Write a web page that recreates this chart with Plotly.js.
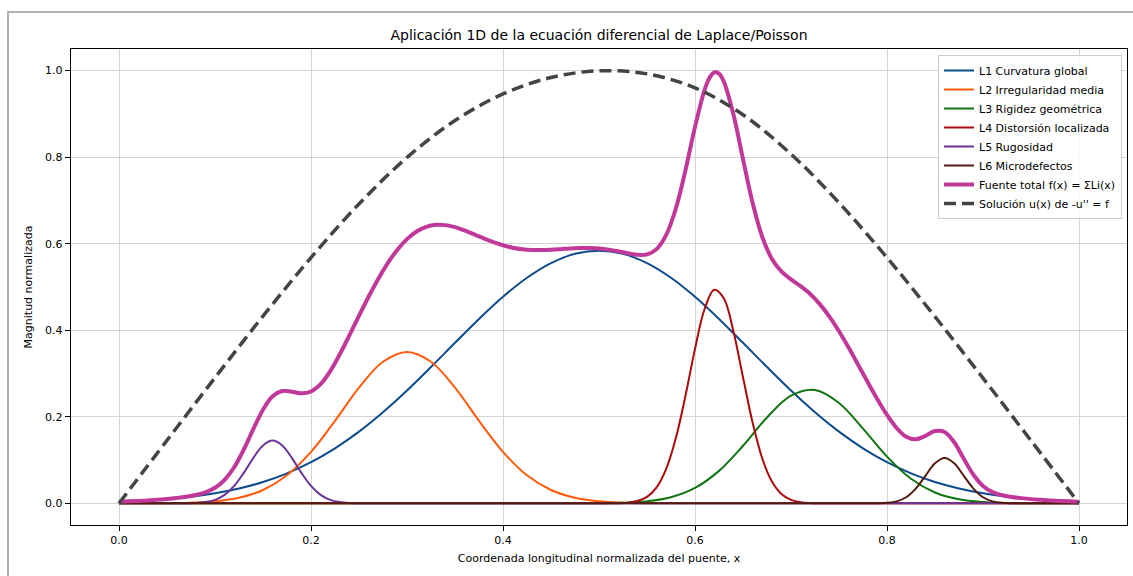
<!DOCTYPE html>
<html>
<head>
<meta charset="utf-8">
<script src="https://cdn.plot.ly/plotly-3.0.1.min.js"></script>
<style>html,body{margin:0;padding:0;background:#fff;}#chart{width:1133px;height:576px;}</style>
</head>
<body>
<div id="chart"></div>
<script>
// ---- Data ----
var xL1 = [0,0.025,0.05,0.075,0.1,0.125,0.15,0.175,0.2,0.225,0.25,0.275,0.3,0.325,0.35,0.375,0.4,0.425,0.45,0.475,0.5,
           0.525,0.55,0.575,0.6,0.625,0.65,0.675,0.7,0.725,0.75,0.775,0.8,0.825,0.85,0.875,0.9,0.925,0.95,0.975,1.0];
var yL1 = [0.0038,0.0062,0.0098,0.0153,0.0232,0.0343,0.0494,0.0694,0.0951,0.1271,0.1657,0.2105,0.2607,0.315,0.371,0.4262,0.4774,0.5214,0.5553,0.5767,0.584,
           0.5767,0.5553,0.5214,0.4774,0.4262,0.371,0.315,0.2607,0.2105,0.1657,0.1271,0.0951,0.0694,0.0494,0.0343,0.0232,0.0153,0.0098,0.0062,0.0038];

var xL2 = [0,0.025,0.05,0.075,0.1,0.125,0.15,0.175,0.2,0.225,0.25,0.275,0.3,0.325,0.35,0.375,0.4,0.425,0.45,0.475,0.5,0.525,0.55,0.575,0.6,0.8,1.0];
var yL2 = [0,0,0.0004,0.0015,0.0047,0.0129,0.0309,0.0649,0.119,0.1908,0.2673,0.3272,0.35,0.3272,0.2673,0.1908,0.119,0.0649,0.0309,0.0129,0.0047,0.0015,0.0004,0.0001,0,0,0];

var xL3 = [0,0.2,0.45,0.475,0.5,0.525,0.55,0.575,0.6,0.625,0.65,0.675,0.7,0.725,0.75,0.775,0.8,0.825,0.85,0.875,0.9,0.925,0.95,0.975,1.0];
var yL3 = [0,0,0,0,0.0003,0.0013,0.0048,0.0142,0.0356,0.0751,0.1332,0.1985,0.2488,0.2621,0.2321,0.1728,0.1081,0.0569,0.0251,0.0093,0.0029,0.0008,0.0002,0,0];

var xL4 = [0,0.25,0.5,0.51,0.52,0.53,0.54,0.55,0.56,0.57,0.58,0.59,0.6,0.61,0.62,0.63,0.64,0.65,0.66,0.67,0.68,0.69,0.7,0.71,0.72,0.73,0.75,1.0];
var yL4 = [0,0,0,0,0.0004,0.0016,0.0053,0.0149,0.0369,0.0797,0.1503,0.2478,0.357,0.4491,0.4937,0.4741,0.3977,0.2914,0.1866,0.1043,0.051,0.0218,0.0081,0.0026,0.0008,0.0002,0,0];

var xL5 = [0,0.05,0.06,0.07,0.08,0.09,0.1,0.11,0.12,0.13,0.14,0.15,0.16,0.17,0.18,0.19,0.2,0.21,0.22,0.23,0.24,0.25,0.26,0.27,0.5,1.0];
var yL5 = [0,0,0,0.0002,0.0009,0.0029,0.0081,0.0196,0.0403,0.0706,0.1053,0.1338,0.145,0.1338,0.1053,0.0706,0.0403,0.0196,0.0081,0.0029,0.0009,0.0002,0,0,0,0];

var xL6 = [0,0.5,0.77,0.78,0.79,0.8,0.81,0.82,0.83,0.84,0.85,0.86,0.87,0.88,0.89,0.9,0.91,0.92,0.93,0.94,0.95,1.0];
var yL6 = [0,0,0,0,0.0002,0.0012,0.0046,0.0142,0.0341,0.0637,0.0927,0.105,0.0927,0.0637,0.0341,0.0142,0.0046,0.0012,0.0002,0,0,0];

var xF = [0,0.01,0.02,0.03,0.04,0.05,0.06,0.07,0.08,0.09,0.1,0.11,0.12,0.13,0.14,0.15,0.16,0.17,0.18,0.19,0.2,
          0.21,0.22,0.23,0.24,0.25,0.26,0.27,0.28,0.29,0.3,0.31,0.32,0.33,0.34,0.35,0.36,0.37,0.38,0.39,0.4,
          0.41,0.42,0.43,0.44,0.45,0.46,0.47,0.48,0.49,0.5,0.51,0.52,0.53,0.54,0.55,0.56,0.57,0.58,0.59,0.6,
          0.61,0.615,0.62,0.625,0.63,0.64,0.65,0.66,0.67,0.68,0.69,0.7,0.71,0.72,0.73,0.74,0.75,0.76,0.77,0.78,0.79,0.8,
          0.81,0.82,0.83,0.84,0.85,0.86,0.87,0.88,0.89,0.9,0.91,0.92,0.93,0.94,0.95,0.96,0.97,0.98,0.99,1.0];
var yF = [0.0038,0.0046,0.0056,0.0068,0.0082,0.0102,0.0125,0.0154,0.0195,0.0256,0.036,0.0545,0.0835,0.1245,0.172,0.2165,0.2475,0.2595,0.258,0.2545,0.2585,
          0.2755,0.3055,0.3445,0.3882,0.4335,0.4775,0.5186,0.5553,0.5862,0.6107,0.6283,0.6391,0.6437,0.643,0.6383,0.6307,0.6217,0.6123,0.6037,0.5964,
          0.5909,0.5873,0.5855,0.5854,0.5862,0.5875,0.589,0.5899,0.5901,0.589,0.5864,0.5826,0.578,0.5743,0.5754,0.5875,0.6203,0.6809,0.7689,0.87,
          0.9557,0.9831,0.9961,0.9933,0.9749,0.8991,0.7956,0.6946,0.6162,0.5655,0.536,0.5176,0.502,0.4839,0.4604,0.4317,0.3978,0.36,0.3201,0.2797,0.2406,0.2044,
          0.1742,0.1539,0.1481,0.1561,0.1672,0.1651,0.1413,0.103,0.0661,0.0403,0.026,0.0189,0.0148,0.0121,0.0098,0.0082,0.0068,0.0056,0.0046,0.0038];

var xU = [0,0.05,0.1,0.15,0.2,0.25,0.3,0.35,0.4,0.45,0.5,0.55,0.6,0.65,0.7,0.75,0.8,0.85,0.9,0.95,1.0];
var yU = [0,0.1456,0.2905,0.4327,0.5679,0.692,0.7994,0.8847,0.9461,0.9842,0.9996,0.9925,0.9602,0.898,0.8071,0.6948,0.5678,0.4314,0.2895,0.145,0];

var names = ["L1 Curvatura global","L2 Irregularidad media","L3 Rigidez geométrica","L4 Distorsión localizada",
             "L5 Rugosidad","L6 Microdefectos","Fuente total f(x) = ΣLi(x)","Solución u(x) de -u'' = f"];
var colors = ["#0b4a8c","#ff5a0a","#107510","#aa0a0a","#6a3597","#531a10","#c0399a","#444444"];
var xTicks = [0,0.2,0.4,0.6,0.8,1.0];
var yTicks = [0,0.2,0.4,0.6,0.8,1.0];

var xs = [xL1,xL2,xL3,xL4,xL5,xL6];
var ys = [yL1,yL2,yL3,yL4,yL5,yL6];
var traces = [];
for (var i = 0; i < 6; i++) {
  traces.push({x: xs[i], y: ys[i], mode: 'lines', name: names[i],
    line: {color: colors[i], width: 2, shape: 'spline', smoothing: 1}});
}
traces.push({x: xF, y: yF, mode: 'lines', name: names[6],
  line: {color: colors[6], width: 4, shape: 'spline', smoothing: 1}});
traces.push({x: xU, y: yU, mode: 'lines', name: names[7],
  line: {color: colors[7], width: 3.5, dash: '12px,6px', shape: 'spline', smoothing: 1}});

var W = 1133, H = 576, L = 71, R = 6, T = 49, B = 51;
var pw = W - L - R, ph = H - T - B;

var layout = {
  width: W, height: H,
  margin: {l: L, r: R, t: T, b: B, pad: 0},
  paper_bgcolor: '#ffffff', plot_bgcolor: '#ffffff',
  font: {family: 'DejaVu Sans, sans-serif', size: 11, color: '#000'},
  title: {text: 'Aplicación 1D de la ecuación diferencial de Laplace/Poisson',
    font: {size: 14, color: '#000'}, x: 0.5, xref: 'paper', y: 1 - 35 / H, yref: 'container', yanchor: 'middle'},
  xaxis: {range: [-0.05, 1.05], tickvals: xTicks, tickformat: '.1f', showgrid: true, gridcolor: '#d4d4d4', gridwidth: 1,
    zeroline: false, showline: true, mirror: true, linecolor: '#000', linewidth: 1.2,
    ticks: 'outside', ticklen: 5, tickwidth: 1, tickcolor: '#000', tickfont: {size: 11},
    title: {text: 'Coordenada longitudinal normalizada del puente, x', font: {size: 11}, standoff: 7}},
  yaxis: {range: [-0.05, 1.05], tickvals: yTicks, tickformat: '.1f', showgrid: true, gridcolor: '#d4d4d4', gridwidth: 1,
    zeroline: false, showline: true, mirror: true, linecolor: '#000', linewidth: 1.2,
    ticks: 'outside', ticklen: 5, tickwidth: 1, tickcolor: '#000', tickfont: {size: 11},
    title: {text: 'Magnitud normalizada', font: {size: 11}, standoff: 10}},
  showlegend: true,
  legend: {x: (1122 - L) / pw, xanchor: 'right', y: (H - B - 55) / ph, yanchor: 'top',
    bgcolor: 'rgba(255,255,255,0.85)', bordercolor: '#cccccc', borderwidth: 1, font: {size: 11}},
  shapes: [{type: 'rect', xref: 'paper', yref: 'paper',
    x0: (8 - L) / pw, x1: (1145 - L) / pw, y0: (H - B - 590) / ph, y1: (H - B - 12) / ph,
    line: {color: '#999999', width: 1.5}, fillcolor: 'rgba(0,0,0,0)', layer: 'below'}]
};

Plotly.newPlot('chart', traces, layout, {displayModeBar: false, staticPlot: true});
</script>
</body>
</html>
